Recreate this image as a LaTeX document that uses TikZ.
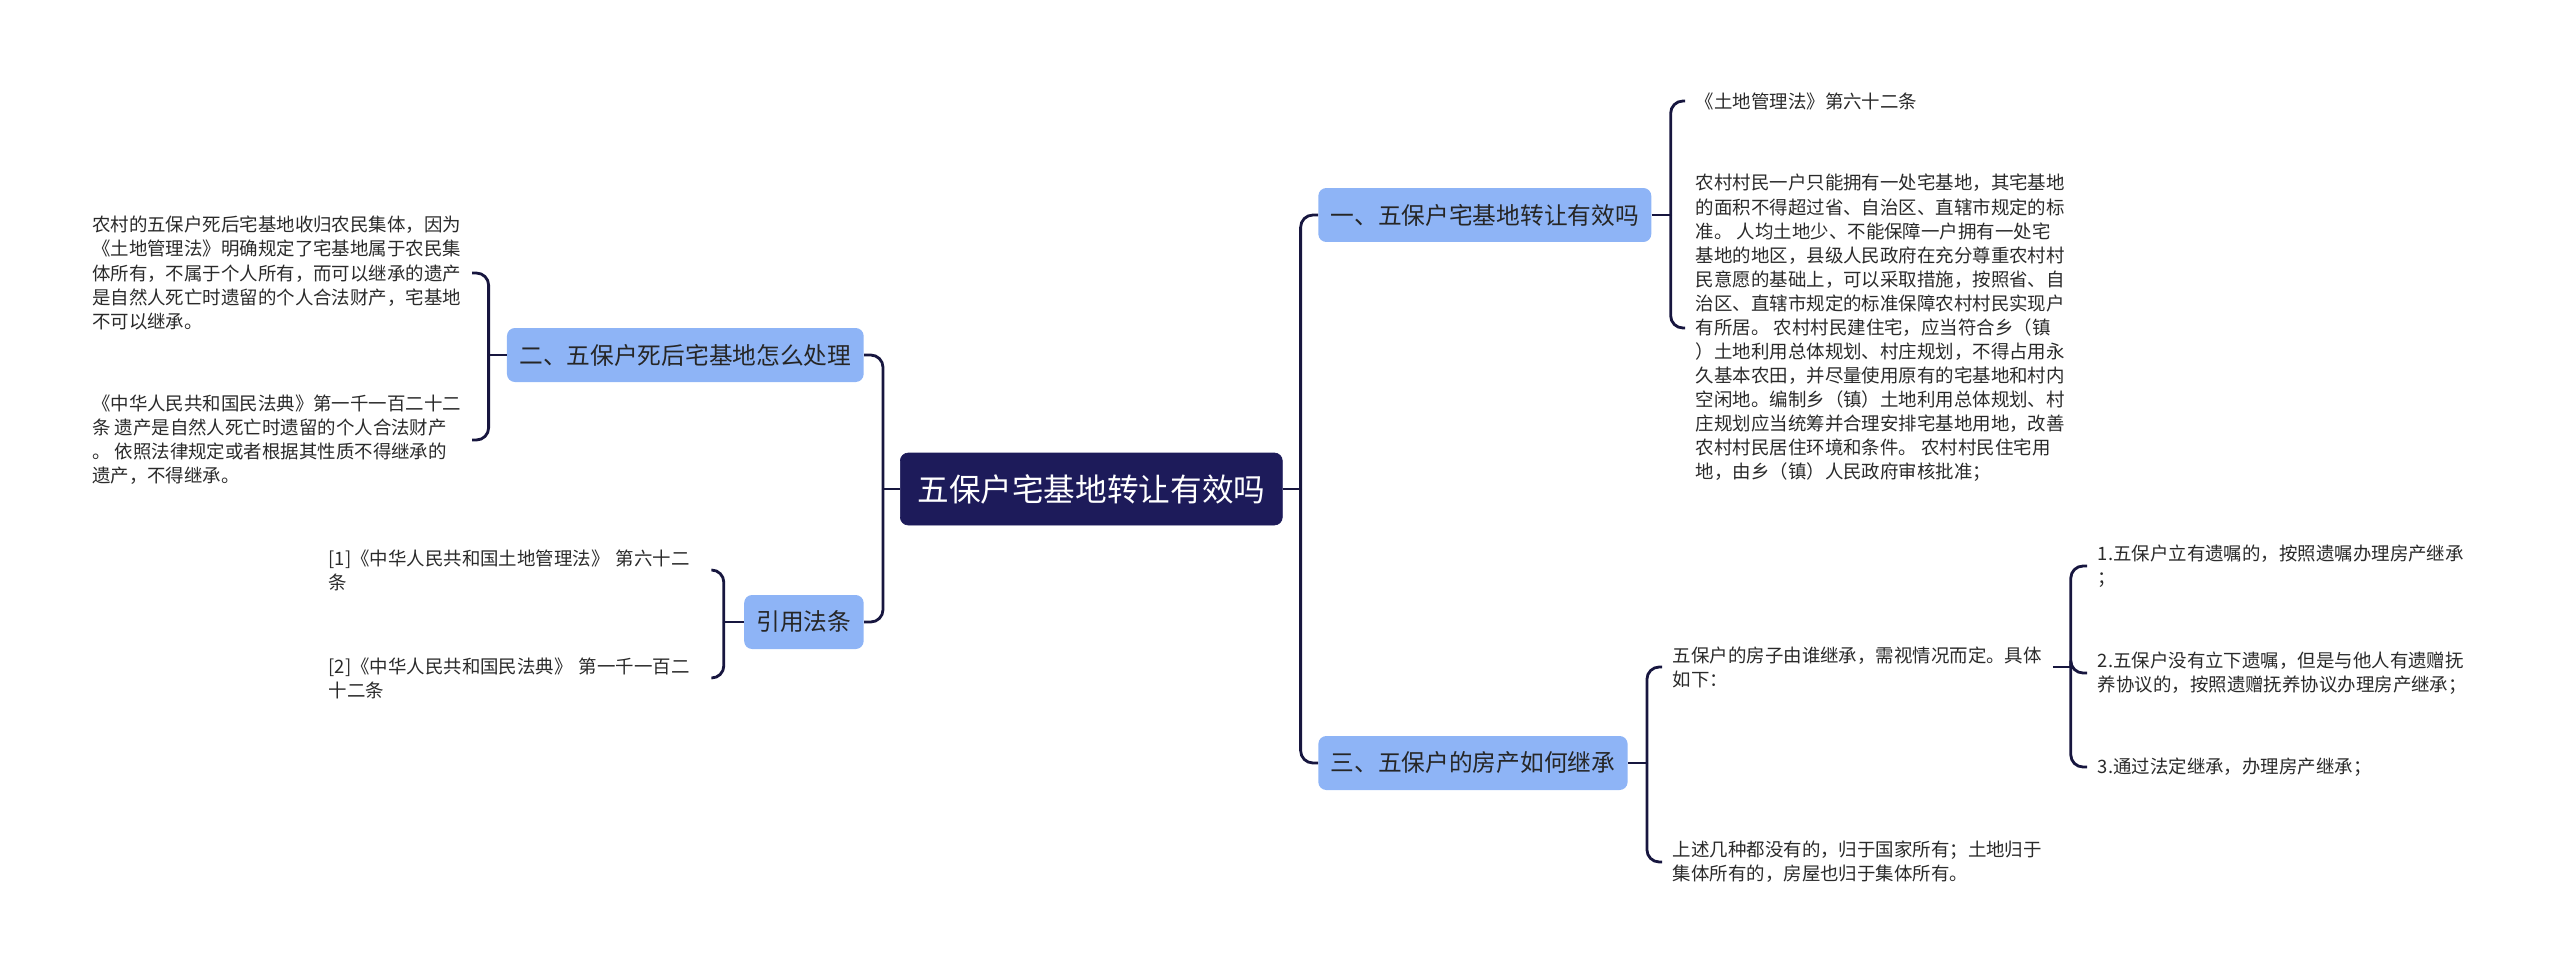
\documentclass[tikz,border=0pt]{standalone}
\usepackage{fontspec}
\setmainfont{Noto Sans CJK SC}
\usepackage{tikz}
\usepackage{xcolor}
\usetikzlibrary{positioning,calc}

\definecolor{navy}{HTML}{1D1B5A}
\definecolor{linkc}{HTML}{17163F}
\definecolor{topicblue}{HTML}{8EB4F6}
\definecolor{leaftxt}{HTML}{2A2A2A}

\begin{document}
\begin{tikzpicture}[
  x=0.02cm, y=-0.02cm,
  rootbox/.style={fill=navy, draw=navy, rounded corners=4.5pt, minimum width=7.64cm, minimum height=1.44cm, inner sep=0pt, text=white, font=\fontsize{18}{22}\selectfont},
  branch/.style={fill=topicblue, rounded corners=4.5pt, minimum height=1.08cm, inner xsep=7pt, inner ysep=0pt, text=black!85, font=\fontsize{13.5}{16}\selectfont},
  leaf/.style={align=left, inner xsep=6pt, inner ysep=2pt, text=leaftxt, font=\fontsize{10.5}{13.7}\selectfont},
  link/.style={draw=linkc, line width=1.6pt, rounded corners=7pt}
]
  \useasboundingbox (0,0) rectangle (2560,974);

  % Centre
  \node[rootbox, anchor=west] (root) at (900,489) {五保户宅基地转让有效吗};

  % Branches
  \node[branch, anchor=west] (b1) at (1318,215) {一、五保户宅基地转让有效吗};
  \node[branch, anchor=west] (b3) at (1318,763) {三、五保户的房产如何继承};
  \node[branch, anchor=east] (b2) at (864,355) {二、五保户死后宅基地怎么处理};
  \node[branch, anchor=east] (b4) at (864,622) {引用法条};

  % Feuilles a droite
  \node[leaf, anchor=west] (l1) at (1685,101) {《土地管理法》第六十二条};
  \node[leaf, anchor=west] (l2) at (1685,328) {农村村民一户只能拥有一处宅基地，其宅基地\\的面积不得超过省、自治区、直辖市规定的标\\准。 人均土地少、不能保障一户拥有一处宅\\基地的地区，县级人民政府在充分尊重农村村\\民意愿的基础上，可以采取措施，按照省、自\\治区、直辖市规定的标准保障农村村民实现户\\有所居。 农村村民建住宅，应当符合乡（镇\\）土地利用总体规划、村庄规划，不得占用永\\久基本农田，并尽量使用原有的宅基地和村内\\空闲地。编制乡（镇）土地利用总体规划、村\\庄规划应当统筹并合理安排宅基地用地，改善\\农村村民居住环境和条件。 农村村民住宅用\\地，由乡（镇）人民政府审核批准；};
  \node[leaf, anchor=west] (c1) at (1662,667) {五保户的房子由谁继承，需视情况而定。具体\\如下：};
  \node[leaf, anchor=west] (c2) at (1662,862) {上述几种都没有的，归于国家所有；土地归于\\集体所有的，房屋也归于集体所有。};
  \node[leaf, anchor=west] (d1) at (2087,566) {1.五保户立有遗嘱的，按照遗嘱办理房产继承\\；};
  \node[leaf, anchor=west] (d2) at (2087,673) {2.五保户没有立下遗嘱，但是与他人有遗赠抚\\养协议的，按照遗赠抚养协议办理房产继承；};
  \node[leaf, anchor=west] (d3) at (2087,767) {3.通过法定继承，办理房产继承；};

  % Feuilles a gauche
  \node[leaf, anchor=east] (a1) at (472,273) {农村的五保户死后宅基地收归农民集体，因为\\《土地管理法》明确规定了宅基地属于农民集\\体所有，不属于个人所有，而可以继承的遗产\\是自然人死亡时遗留的个人合法财产，宅基地\\不可以继承。};
  \node[leaf, anchor=east] (a2) at (472,440) {《中华人民共和国民法典》第一千一百二十二\\条 遗产是自然人死亡时遗留的个人合法财产\\。 依照法律规定或者根据其性质不得继承的\\遗产，不得继承。};
  \node[leaf, anchor=east, text width=7.45cm] (r1) at (712,570) {[1]《中华人民共和国土地管理法》 第六十二\\条};
  \node[leaf, anchor=east, text width=7.45cm] (r2) at (712,678) {[2]《中华人民共和国民法典》 第一千一百二\\十二条};

  % Liens
  \coordinate (rj) at ($(root.east)+(18,0)$);
  \coordinate (lj) at ($(root.west)+(-17,0)$);
  \draw[link] (root.east) -- (rj);
  \draw[link] (root.west) -- (lj);
  \foreach \n in {b1,b3} \draw[link] (rj) |- (\n.west);
  \foreach \n in {b2,b4} \draw[link] (lj) |- (\n.east);

  \coordinate (b1j) at ($(b1.east)+(19,0)$);
  \draw[link] (b1.east) -- (b1j);
  \foreach \n in {l1,l2} \draw[link] (b1j) |- (\n.west);

  \coordinate (b3j) at ($(b3.east)+(19,0)$);
  \draw[link] (b3.east) -- (b3j);
  \foreach \n in {c1,c2} \draw[link] (b3j) |- (\n.west);

  \coordinate (c1j) at ($(c1.east)+(18,0)$);
  \draw[link] (c1.east) -- (c1j);
  \foreach \n in {d1,d2,d3} \draw[link] (c1j) |- (\n.west);

  \coordinate (b2j) at ($(b2.west)+(-18,0)$);
  \draw[link] (b2.west) -- (b2j);
  \foreach \n in {a1,a2} \draw[link] (b2j) |- (\n.east);

  \coordinate (b4j) at ($(b4.west)+(-20,0)$);
  \draw[link] (b4.west) -- (b4j);
  \foreach \n in {r1,r2} \draw[link] (b4j) |- (\n.east);
\end{tikzpicture}
\end{document}
